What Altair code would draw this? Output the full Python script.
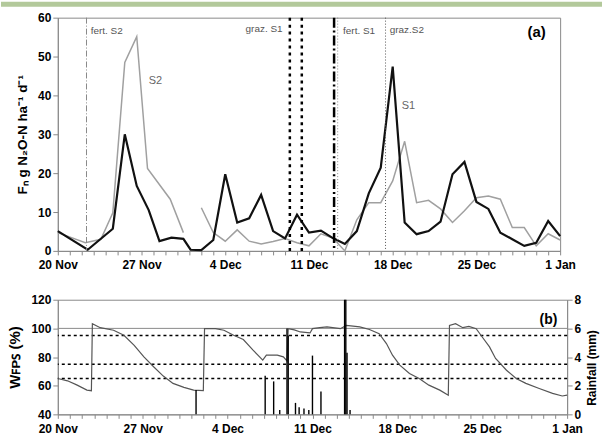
import json
import altair as alt
import pandas as pd

# ---------------- data ----------------
tick_labels = ["20 Nov", "27 Nov", "4 Dec", "11 Dec", "18 Dec", "25 Dec", "1 Jan"]

s1_day = [0, 2.5, 4.6, 5.6, 6.6, 7.6, 8.5, 9.5, 10.5, 11.1, 12, 13, 14, 15, 16, 17, 18, 19, 20,
          21, 22, 23, 24, 25, 26, 27, 28, 29, 30, 31, 32, 33, 34, 35, 36, 37, 38, 39, 40, 41, 42]
s1_val = [5.1, 0.3, 5.7, 30.0, 16.7, 10.5, 2.5, 3.4, 3.1, 0.3, 0.2, 2.8, 19.7, 7.3, 8.4, 14.4, 5.1, 3.2, 9.3,
          4.7, 5.2, 3.3, 1.8, 5.1, 14.8, 21.4, 47.4, 7.3, 4.3, 5.1, 7.5, 19.7, 22.9, 12.6, 10.8, 4.7, 3.0, 1.3, 2.1, 7.7, 3.8]

s2_day = [0, 2.3, 3.6, 4.6, 5.6, 6.6, 7.5, 9.4, 10.5,
          12, 13, 14, 15, 16, 17, 18, 19, 20, 21, 22, 23, 24, 25, 26, 27, 28, 29, 30, 31, 32, 33, 34,
          35, 36, 37, 38, 39, 40, 41, 42]
s2_val = [4.7, 2.1, 3.0, 9.8, 48.5, 55.1, 21.2, 13.3, 4.7,
          11.1, 4.7, 2.5, 5.4, 2.5, 1.8, 2.4, 3.2, 2.1, 1.3, 4.4, 3.3, 0.0, 8.0, 12.4, 12.4, 18.0, 28.2, 12.4, 13.0, 10.8, 7.3, 10.3,
          13.7, 14.1, 13.3, 6.0, 6.0, 1.3, 4.4, 2.8]
s2_part = [1] * 9 + [2] * 31

wfps_day = [0, 0.8, 1.6, 2.4, 2.77, 2.85, 3.5, 4.6, 5.45, 6.3, 7.1, 7.9, 8.7, 9.5, 10.4, 11.2, 12.0, 12.1,
            13.0, 13.7, 14.5, 15.3, 16.1, 16.9, 17.2, 18.1, 18.6, 18.9, 19.0, 19.5, 20.0, 20.8, 21.0, 21.6,
            22.2, 23.3, 23.8, 24.9, 25.7, 26.5, 27.1, 27.6, 28.2, 29.0, 29.8, 30.6, 31.5, 32.2, 32.3, 32.8,
            33.4, 33.9, 34.5, 35.0, 35.6, 36.1, 37.0, 37.8, 38.6, 39.7, 40.8, 41.6, 42.0]
wfps_val = [65, 63.4, 60.4, 56.9, 56.5, 103.3, 100.5, 98.7, 95.2, 88.2, 80.1, 73.2, 66.7, 61.6, 58.8, 56.9, 56.5, 99.8,
            99.8, 98.7, 95.2, 92.2, 84.8, 77.8, 81.3, 81.3, 80.1, 77.3, 99.8, 99.0, 97.5, 96.8, 99.8, 100.5,
            101.0, 99.8, 102.1, 101.0, 99.2, 96.3, 89.4, 81.3, 74.3, 68.5, 65.0, 60.4, 56.9, 53.4, 102.1, 103.3,
            100.5, 101.4, 99.8, 94.0, 87.1, 79.0, 70.8, 65.0, 61.6, 58.0, 54.6, 52.8, 53.4]

rain_day = [11.4, 17.1, 17.8, 18.3, 18.9, 19.0, 19.6, 19.9, 20.3, 20.7, 21.0, 21.7, 23.65, 23.75, 23.85, 24.1]
rain_val = [1.7, 2.7, 2.3, 0.3, 6.0, 5.5, 0.8, 0.5, 0.4, 0.3, 4.1, 1.6, 8.0, 8.0, 4.3, 0.3]

wfps_thresholds = [95, 75, 65]
wfps_saturation = [100]

fert_s2_day = [2.4]
graz_s1_days = [19.4, 20.4]
dashdot_day = [23.1]
fert_s1_day = [23.4]
graz_s2_day = [27.4]

event_text = ["fert. S2", "graz. S1", "fert. S1", "graz.S2"]
event_text_day = [2.75, 18.8, 23.85, 27.75]
event_text_val = [56.6, 57.0, 56.6, 56.8]

series_text = ["S2", "S1"]
series_text_day = [7.6, 28.75]
series_text_val = [43.6, 37.2]

# ---------------- helpers ----------------
FONT = "Liberation Sans"
label_expr = ("datum.value % 7 === 0 ? " + json.dumps(tick_labels) +
              "[round(datum.value / 7)] : ''")

X = alt.X(
    "day:Q",
    scale=alt.Scale(domain=[0, 42], nice=False, zero=False),
    axis=alt.Axis(values=list(range(43)), labelExpr=label_expr, title=None,
                  labelOverlap=False, labelFlush=False, labelPadding=5, tickSize=4),
)

# ---------------- panel (a) ----------------
YA = alt.Y("val:Q", scale=alt.Scale(domain=[0, 60], nice=False),
           axis=alt.Axis(values=[0, 10, 20, 30, 40, 50, 60], labelOverlap=False,
                         title="Fₙ g N₂O-N ha⁻¹ d⁻¹", titlePadding=8, titleFontSize=13.5,
                         tickSize=5))

df_s1 = pd.DataFrame({"day": s1_day, "val": s1_val})
df_s2 = pd.DataFrame({"day": s2_day, "val": s2_val, "part": s2_part})

band = alt.Chart(pd.DataFrame({"k": [0]})).mark_rect(color="#b3c99b").encode(
    x=alt.value(-57), x2=alt.value(546), y=alt.value(-16), y2=alt.value(-11))

line_s2 = alt.Chart(df_s2).mark_line(color="#a0a0a0", strokeWidth=1.5).encode(
    x=X, y=YA, detail="part:N")
line_s1 = alt.Chart(df_s1).mark_line(color="#111111", strokeWidth=2.2).encode(x=X, y=YA)


def vrule(days, color, dash, width):
    return alt.Chart(pd.DataFrame({"day": days})).mark_rule(
        color=color, strokeDash=dash, strokeWidth=width).encode(x=X)


r1 = vrule(fert_s2_day, "#8a8a8a", [6, 2, 1, 2], 1)
r2 = vrule(graz_s1_days, "#000000", [3, 4], 2.5)
r3 = vrule(dashdot_day, "#000000", [10, 3, 2, 3], 2.5)
r4 = vrule(fert_s1_day, "#8a8a8a", [1, 2], 1)
r5 = vrule(graz_s2_day, "#555555", [1, 2], 1)

df_ev = pd.DataFrame({"day": event_text_day, "val": event_text_val, "t": event_text,
                      "al": ["left", "right", "left", "left"]})
ev_left = alt.Chart(df_ev[df_ev.al == "left"]).mark_text(
    align="left", baseline="middle", font=FONT, fontSize=10, color="#555555").encode(
    x=X, y=YA, text="t:N")
ev_right = alt.Chart(df_ev[df_ev.al == "right"]).mark_text(
    align="right", baseline="middle", font=FONT, fontSize=10, color="#555555").encode(
    x=X, y=YA, text="t:N")

df_st = pd.DataFrame({"day": series_text_day, "val": series_text_val, "t": series_text})
st = alt.Chart(df_st).mark_text(align="left", baseline="middle", font=FONT, fontSize=11,
                                color="#666666").encode(x=X, y=YA, text="t:N")

tag_a = alt.Chart(pd.DataFrame({"day": [40.8], "val": [56.2], "t": ["(a)"]})).mark_text(
    align="right", baseline="middle", font=FONT, fontSize=15, fontWeight="bold", color="#000").encode(
    x=X, y=YA, text="t:N")

panel_a = alt.layer(band, line_s2, line_s1, r1, r2, r3, r4, r5, ev_left, ev_right, st, tag_a).properties(
    width=504, height=234)

# ---------------- panel (b) ----------------
YB = alt.Y("val:Q", scale=alt.Scale(domain=[40, 120], nice=False),
           axis=alt.Axis(values=[40, 60, 80, 100, 120], labelOverlap=False, title="Wꜰᴘꜱ (%)",
                         titlePadding=8, titleFontSize=15, tickSize=5))

df_w = pd.DataFrame({"day": wfps_day, "val": wfps_val})
w_line = alt.Chart(df_w).mark_line(color="#555555", strokeWidth=1.2).encode(x=X, y=YB)
thr = alt.Chart(pd.DataFrame({"val": wfps_thresholds})).mark_rule(
    color="#000", strokeDash=[3, 3], strokeWidth=1.6).encode(y=YB)
sat = alt.Chart(pd.DataFrame({"val": wfps_saturation})).mark_rule(
    color="#8a8a8a", strokeWidth=1).encode(y=YB)

tag_b = alt.Chart(pd.DataFrame({"day": [41.2], "val": [106], "t": ["(b)"]})).mark_text(
    align="right", baseline="middle", font=FONT, fontSize=14, fontWeight="bold", color="#000").encode(
    x=X, y=YB, text="t:N")

df_r = pd.DataFrame({"day": rain_day, "rain": rain_val})
rain = alt.Chart(df_r).mark_rule(color="#000", strokeWidth=1.4).encode(
    x=X,
    y=alt.Y("rain:Q", scale=alt.Scale(domain=[0, 8], nice=False),
            axis=alt.Axis(orient="right", values=[0, 2, 4, 6, 8], labelOverlap=False,
                          title="Rainfall (mm)", titleAngle=270, titleBaseline="top",
                          titlePadding=6, titleY=68, tickSize=5)),
    y2=alt.datum(0))

left_b = alt.layer(sat, thr, w_line, tag_b)
panel_b = alt.layer(left_b, rain).resolve_scale(y="independent").properties(width=511, height=115)

chart = alt.vconcat(panel_a, panel_b, spacing=49, bounds="flush").configure_view(
    stroke="#8a8a8a", strokeWidth=1
).configure_axis(
    grid=False, domainColor="#8a8a8a", tickColor="#8a8a8a", labelOverlap=False,
    labelFont=FONT, labelFontSize=12, labelFontWeight="bold", labelColor="#000",
    titleFont=FONT, titleFontSize=12, titleFontWeight="bold", titleColor="#000",
).properties(background="white", padding=0)

chart.save("out.html", embed_options={"renderer": "svg", "actions": False})
